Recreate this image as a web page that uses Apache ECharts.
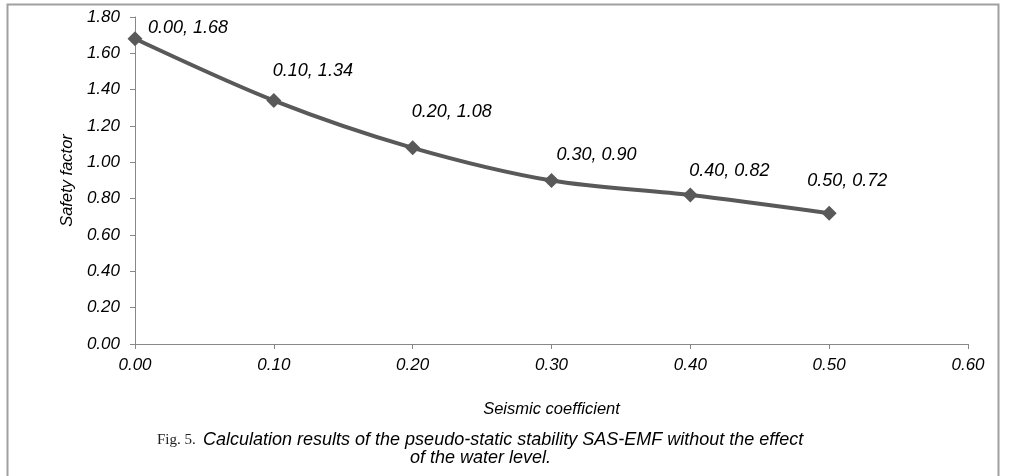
<!DOCTYPE html>
<html style="height: 100%">
<head>
    <meta charset="utf-8">
</head>
<body style="height: 100%; margin: 0; background: #fff">
<div id="container" style="width: 1009px; height: 476px"></div>
<script type="text/javascript" src="https://cdn.jsdelivr.net/npm/echarts@6/dist/echarts.min.js"></script>
<script type="text/javascript">
// data
var seismic = [0.00, 0.10, 0.20, 0.30, 0.40, 0.50];
var safety = [1.68, 1.34, 1.08, 0.90, 0.82, 0.72];

// where the excel labels ended up, relative to each point
var labelShift = [[13, -11], [-1, -30], [-1, -36], [5, -26], [-1, -24], [-22, -32]];

var fontFam = '"Liberation Sans", Arial, sans-serif';
var ink = '#595959';

var chart = echarts.init(document.getElementById('container'));

var points = seismic.map(function (x, i) {
    return {
        value: [x, safety[i]],
        label: { offset: labelShift[i] }
    };
});

var option = {
    backgroundColor: '#fff',
    animation: false,
    grid: { left: 135, right: 41, top: 17, bottom: 132 },
    xAxis: {
        type: 'value',
        min: 0,
        max: 0.6,
        interval: 0.1,
        name: 'Seismic coefficient',
        nameLocation: 'middle',
        nameGap: 57,
        nameTextStyle: { fontFamily: fontFam, fontStyle: 'italic', fontSize: 16.5, color: '#000' },
        axisLine: { show: true, lineStyle: { color: '#888', width: 1 } },
        axisTick: { show: true, length: 5, lineStyle: { color: '#888' } },
        splitLine: { show: false },
        axisLabel: {
            margin: 13,
            fontFamily: fontFam, fontStyle: 'italic', fontSize: 17, color: '#000',
            formatter: function (v) { return v.toFixed(2); }
        }
    },
    yAxis: {
        type: 'value',
        min: 0,
        max: 1.8,
        interval: 0.2,
        name: 'Safety factor',
        nameLocation: 'middle',
        nameGap: 58,
        nameTextStyle: { fontFamily: fontFam, fontStyle: 'italic', fontSize: 16.5, color: '#000' },
        axisLine: { show: true, lineStyle: { color: '#888', width: 1 } },
        axisTick: { show: true, length: 5, lineStyle: { color: '#888' } },
        splitLine: { show: false },
        axisLabel: {
            margin: 15,
            fontFamily: fontFam, fontStyle: 'italic', fontSize: 17, color: '#000',
            formatter: function (v) { return v.toFixed(2); }
        }
    },
    series: [{
        type: 'line',
        data: points,
        smooth: 0.3,
        symbol: 'diamond',
        symbolSize: 15,
        lineStyle: { color: ink, width: 4 },
        itemStyle: { color: ink },
        label: {
            show: true,
            position: 'inside',
            align: 'left',
            verticalAlign: 'middle',
            fontFamily: fontFam, fontStyle: 'italic', fontSize: 18, color: '#000',
            formatter: function (p) {
                return p.value[0].toFixed(2) + ', ' + p.value[1].toFixed(2);
            }
        }
    }],
    graphic: [
        {
            type: 'rect',
            shape: { x: 7.5, y: 4.5, width: 991, height: 490 },
            style: { fill: 'none', stroke: '#a0a0a0', lineWidth: 2 },
            silent: true
        },
        {
            type: 'text',
            left: 157,
            top: 433,
            style: { text: 'Fig. 5.', font: '15px "Liberation Serif", "Times New Roman", serif', fill: '#222' }
        },
        {
            type: 'text',
            left: 203,
            top: 431,
            style: {
                text: 'Calculation results of the pseudo-static stability SAS-EMF without the effect',
                font: 'italic 18px "Liberation Sans", Arial, sans-serif',
                fill: '#000'
            }
        },
        {
            type: 'text',
            left: 410,
            top: 449,
            style: {
                text: 'of the water level.',
                font: 'italic 18px "Liberation Sans", Arial, sans-serif',
                fill: '#000'
            }
        }
    ]
};

chart.setOption(option);
</script>
</body>
</html>
